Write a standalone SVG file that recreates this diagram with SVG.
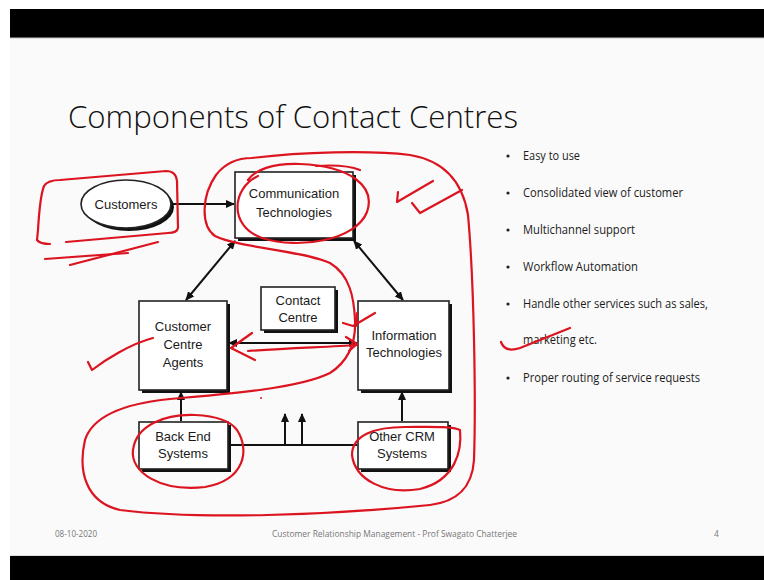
<svg xmlns="http://www.w3.org/2000/svg" width="764" height="580" viewBox="0 0 764 580">
  <defs>
    <marker id="head" viewBox="0 0 10 10" refX="9" refY="5" markerWidth="9" markerHeight="9" markerUnits="userSpaceOnUse" orient="auto-start-reverse">
      <path d="M0,0.5 L10,5 L0,9.5 Z" fill="#111"/>
    </marker>
  </defs>
  <style>
    .box { fill: #ffffff; stroke: #222; stroke-width: 1.6; }
    .shadow { fill: #111; }
    .lbl { font-family: "Liberation Sans", Arial, sans-serif; font-size: 13px; fill: #1a1a1a; text-anchor: middle; }
    .conn { stroke: #111; stroke-width: 2; fill: none; }
    .bul { font-family: "Open Sans", "Liberation Sans", sans-serif; font-size: 12.5px; fill: #1a1a1a; }
    .foot { font-family: "Open Sans", "Liberation Sans", sans-serif; font-size: 8.5px; fill: #777; }
    .ink { fill: none; stroke: #dc1420; stroke-width: 2.2; stroke-linecap: round; stroke-linejoin: round; }
  </style>

  <!-- page and slide frame -->
  <rect x="0" y="0" width="764" height="580" fill="#ffffff"/>
  <rect x="10" y="9" width="754" height="548" fill="#fafafa"/>
  <rect x="10" y="9" width="754" height="28" fill="#000"/>
  <rect x="10" y="37" width="754" height="1.2" fill="#666"/>
  <rect x="10" y="556" width="754" height="24" fill="#000"/>
  <rect x="10" y="555" width="754" height="1" fill="#ddd"/>

  <!-- title -->
  <text x="68" y="128" font-family="'Open Sans', 'Liberation Sans', sans-serif" font-weight="300" font-size="31" fill="#111" textLength="450" lengthAdjust="spacingAndGlyphs">Components of Contact Centres</text>

  <!-- connectors -->
  <g id="connectors">
    <line class="conn" x1="173" y1="204" x2="234" y2="204" marker-end="url(#head)"/>
    <line class="conn" x1="235" y1="241" x2="186" y2="300" marker-start="url(#head)" marker-end="url(#head)"/>
    <line class="conn" x1="354" y1="241" x2="403" y2="300" marker-start="url(#head)" marker-end="url(#head)"/>
    <line class="conn" x1="229" y1="343" x2="357" y2="343" marker-start="url(#head)" marker-end="url(#head)"/>
    <line class="conn" x1="181" y1="421" x2="181" y2="392" marker-end="url(#head)"/>
    <line class="conn" x1="402" y1="421" x2="402" y2="392" marker-end="url(#head)"/>
    <line class="conn" x1="229" y1="445" x2="357" y2="445"/>
    <line class="conn" x1="285" y1="445" x2="285" y2="414" marker-end="url(#head)"/>
    <line class="conn" x1="302" y1="445" x2="302" y2="414" marker-end="url(#head)"/>
  </g>

  <!-- nodes -->
  <g id="customers">
    <ellipse cx="129" cy="207" rx="45" ry="24" class="shadow"/>
    <ellipse cx="126" cy="204" rx="45" ry="24" class="box"/>
    <text class="lbl" x="126" y="209">Customers</text>
  </g>
  <g id="communication-technologies">
    <rect x="238" y="175" width="118" height="66" class="shadow"/>
    <rect x="235" y="172" width="118" height="66" class="box"/>
    <text class="lbl" x="294" y="198">Communication</text>
    <text class="lbl" x="294" y="217">Technologies</text>
  </g>
  <g id="customer-centre-agents">
    <rect x="142" y="304" width="88" height="89" class="shadow"/>
    <rect x="139" y="301" width="88" height="89" class="box"/>
    <text class="lbl" x="183" y="331">Customer</text>
    <text class="lbl" x="183" y="349">Centre</text>
    <text class="lbl" x="183" y="367">Agents</text>
  </g>
  <g id="contact-centre">
    <rect x="264" y="290" width="74" height="43" class="shadow"/>
    <rect x="261" y="287" width="74" height="43" class="box"/>
    <text class="lbl" x="298" y="305">Contact</text>
    <text class="lbl" x="298" y="322">Centre</text>
  </g>
  <g id="information-technologies">
    <rect x="361" y="304" width="91" height="89" class="shadow"/>
    <rect x="358" y="301" width="91" height="89" class="box"/>
    <text class="lbl" x="404" y="340">Information</text>
    <text class="lbl" x="404" y="357">Technologies</text>
  </g>
  <g id="back-end-systems">
    <rect x="142" y="425" width="89" height="47" class="shadow"/>
    <rect x="139" y="422" width="89" height="47" class="box"/>
    <text class="lbl" x="183" y="441">Back End</text>
    <text class="lbl" x="183" y="458">Systems</text>
  </g>
  <g id="other-crm-systems">
    <rect x="361" y="425" width="90" height="47" class="shadow"/>
    <rect x="358" y="422" width="90" height="47" class="box"/>
    <text class="lbl" x="402" y="441">Other CRM</text>
    <text class="lbl" x="402" y="458">Systems</text>
  </g>

  <!-- bullet list -->
  <g id="bullets">
    <g fill="#222">
      <circle cx="508" cy="156" r="1.6"/>
      <circle cx="508" cy="193" r="1.6"/>
      <circle cx="508" cy="230" r="1.6"/>
      <circle cx="508" cy="267" r="1.6"/>
      <circle cx="508" cy="304" r="1.6"/>
      <circle cx="508" cy="378" r="1.6"/>
    </g>
    <text class="bul" x="523" y="160" textLength="57" lengthAdjust="spacingAndGlyphs">Easy to use</text>
    <text class="bul" x="523" y="197" textLength="160" lengthAdjust="spacingAndGlyphs">Consolidated view of customer</text>
    <text class="bul" x="523" y="234" textLength="112" lengthAdjust="spacingAndGlyphs">Multichannel support</text>
    <text class="bul" x="523" y="271" textLength="115" lengthAdjust="spacingAndGlyphs">Workflow Automation</text>
    <text class="bul" x="523" y="308" textLength="185" lengthAdjust="spacingAndGlyphs">Handle other services such as sales,</text>
    <text class="bul" x="523" y="344" textLength="74" lengthAdjust="spacingAndGlyphs">marketing etc.</text>
    <text class="bul" x="523" y="382" textLength="177" lengthAdjust="spacingAndGlyphs">Proper routing of service requests</text>
  </g>

  <!-- footer -->
  <text class="foot" x="55" y="537" textLength="42" lengthAdjust="spacingAndGlyphs">08-10-2020</text>
  <text class="foot" x="272" y="537" textLength="245" lengthAdjust="spacingAndGlyphs">Customer Relationship Management - Prof Swagato Chatterjee</text>
  <text class="foot" x="714" y="537">4</text>

  <!-- hand-drawn pen marks -->
  <g id="pen-marks">
    <!-- box round Customers -->
    <path class="ink" d="M37,240 L38,230 Q40,196 44,186 Q48,180 60,180 L166,171 Q176,171 177,181 L178,228 Q177,233 168,233 L66,242"/>
    <path class="ink" d="M37,240 Q40,244 50,244"/>
    <path class="ink" d="M45,259 L128,253"/>
    <path class="ink" d="M70,265 L158,242"/>
    <!-- ring round Communication Technologies -->
    <path class="ink" d="M258,176 C232,188 228,226 262,238 C300,250 356,240 367,212 C376,186 350,166 300,164 C272,163 255,170 248,180"/>
    <path class="ink" d="M316,166 Q345,164 360,170"/>
    <!-- tick beside it -->
    <path class="ink" d="M398,192 L397,202 L433,181"/>
    <path class="ink" d="M412,203 L420,213 L462,190"/>
    <!-- large loop -->
    <path class="ink" d="M252,158 C300,152 370,150 410,155 C440,160 462,178 468,215 C474,280 476,400 474,460 C472,490 455,502 430,505 C330,515 200,520 120,510 C85,502 78,470 85,440 C92,418 120,404 170,399 C230,394 300,388 330,373 C350,360 356,340 355,320 C354,298 350,275 330,263 C300,250 240,248 215,236 C200,225 202,195 216,175 C226,162 240,158 252,158"/>
    <!-- tick near Customer Centre Agents -->
    <path class="ink" d="M153,338 C130,344 105,360 92,370 L88,362"/>
    <!-- two-way pen arrow between agents and IT -->
    <path class="ink" d="M252,333 L231,348 L255,360"/>
    <path class="ink" d="M248,351 C290,348 330,347 357,345"/>
    <path class="ink" d="M346,337 L357,344 L349,351"/>
    <!-- small tick above IT -->
    <path class="ink" d="M343,323 L353,326 L375,313"/>
    <path class="ink" d="M357,313 L356,326"/>
    <!-- ring round Back End Systems -->
    <path class="ink" d="M237,430 C250,450 245,480 205,487 C160,492 130,472 133,450 C136,425 165,414 195,415 C215,416 230,420 237,430"/>
    <!-- ring round Other CRM Systems -->
    <path class="ink" d="M460,430 C462,450 456,480 420,489 C385,495 355,480 352,455 C352,435 375,427 405,427 C430,427 452,426 460,430"/>
    <!-- tick beside marketing -->
    <path class="ink" d="M501,342 Q505,353 520,348 L570,328"/>
    <circle cx="261" cy="398" r="1" fill="#dc1420"/>
  </g>
</svg>
